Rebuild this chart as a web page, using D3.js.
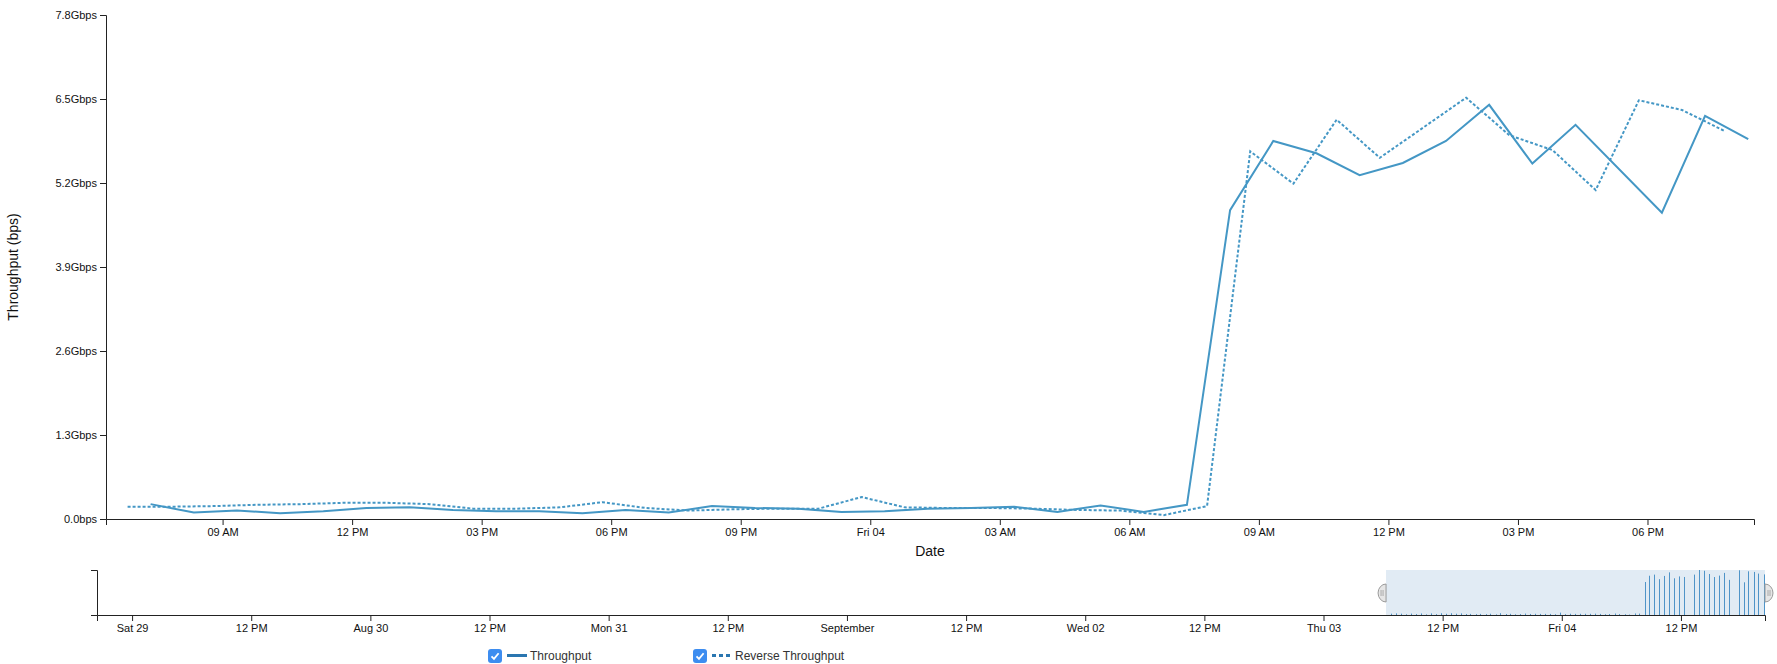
<!DOCTYPE html>
<html>
<head>
<meta charset="utf-8">
<script src="https://cdn.jsdelivr.net/npm/d3@7"></script>
<style>
  body { margin: 0; background: #fff; font-family: "Liberation Sans", Arial, Helvetica, sans-serif; }
  .axis text { font-size: 11px; fill: #111; font-family: "Liberation Sans", Arial, sans-serif; }
  .axis path, .axis line { stroke: #222; }
  .line { fill: none; stroke: #4497c5; stroke-width: 2; }
  .line.reverse { stroke-dasharray: 3,2; }
  .axis-label { font-size: 14px; fill: #111; }
  .legend text { font-size: 12px; fill: #333; }
  .bar { stroke: #4f94c8; stroke-width: 1; }
</style>
</head>
<body>
<svg id="chart" width="1777" height="664"></svg>
<script>
// Data (values in Gbps)
const throughputTimes = [
  "2015-09-03T07:20","2015-09-03T08:20","2015-09-03T09:20","2015-09-03T10:20","2015-09-03T11:20",
  "2015-09-03T12:20","2015-09-03T13:20","2015-09-03T14:20","2015-09-03T15:20","2015-09-03T16:20",
  "2015-09-03T17:20","2015-09-03T18:20","2015-09-03T19:20","2015-09-03T20:20","2015-09-03T21:20",
  "2015-09-03T22:20","2015-09-03T23:20","2015-09-04T00:20","2015-09-04T01:20","2015-09-04T02:20",
  "2015-09-04T03:20","2015-09-04T04:20","2015-09-04T05:20","2015-09-04T06:20","2015-09-04T07:20",
  "2015-09-04T08:20","2015-09-04T09:20","2015-09-04T10:20","2015-09-04T11:20","2015-09-04T12:20",
  "2015-09-04T13:20","2015-09-04T14:20","2015-09-04T15:20","2015-09-04T16:20","2015-09-04T18:20",
  "2015-09-04T19:20","2015-09-04T20:20"
];
const throughputValues = [
  0.23, 0.10, 0.13, 0.09, 0.12, 0.17, 0.18, 0.14, 0.12, 0.12,
  0.09, 0.14, 0.10, 0.20, 0.17, 0.16, 0.11, 0.12, 0.16, 0.17,
  0.19, 0.11, 0.21, 0.11, 0.22, 4.78, 5.85, 5.66, 5.32, 5.51,
  5.85, 6.41, 5.50, 6.10, 4.74, 6.24, 5.88
];
const reverseTimes = [
  "2015-09-03T06:48","2015-09-03T07:48","2015-09-03T08:48","2015-09-03T09:48","2015-09-03T10:48",
  "2015-09-03T11:48","2015-09-03T12:48","2015-09-03T13:48","2015-09-03T14:48","2015-09-03T15:48",
  "2015-09-03T16:48","2015-09-03T17:48","2015-09-03T18:48","2015-09-03T19:48","2015-09-03T20:48",
  "2015-09-03T21:48","2015-09-03T22:48","2015-09-03T23:48","2015-09-04T00:48","2015-09-04T01:48",
  "2015-09-04T02:48","2015-09-04T03:48","2015-09-04T04:48","2015-09-04T05:48","2015-09-04T06:48",
  "2015-09-04T07:48","2015-09-04T08:48","2015-09-04T09:48","2015-09-04T10:48","2015-09-04T11:48",
  "2015-09-04T13:48","2015-09-04T14:48","2015-09-04T15:48","2015-09-04T16:48","2015-09-04T17:48",
  "2015-09-04T18:48","2015-09-04T19:48"
];
const reverseValues = [
  0.19, 0.19, 0.20, 0.22, 0.23, 0.25, 0.25, 0.23, 0.16, 0.16,
  0.18, 0.26, 0.17, 0.13, 0.15, 0.16, 0.16, 0.34, 0.18, 0.17,
  0.17, 0.16, 0.14, 0.13, 0.06, 0.20, 5.69, 5.19, 6.18, 5.59,
  6.52, 5.94, 5.71, 5.09, 6.48, 6.33, 6.00
];
const seriesNames = ["Throughput", "Reverse Throughput"];
const yTickValues = [0, 1.3, 2.6, 3.9, 5.2, 6.5, 7.8];
const yTickLabels = ["0.0bps", "1.3Gbps", "2.6Gbps", "3.9Gbps", "5.2Gbps", "6.5Gbps", "7.8Gbps"];
const fullExtent = ["2015-08-28T20:28", "2015-09-04T20:28"];
const viewExtent = ["2015-09-03T06:18", "2015-09-04T20:28"];

const parseTime = d3.timeParse("%Y-%m-%dT%H:%M");
const throughput = throughputTimes.map((t, i) => ({t: parseTime(t), v: throughputValues[i]}));
const reverse = reverseTimes.map((t, i) => ({t: parseTime(t), v: reverseValues[i]}));

// Dimensions
const focus = {left: 106, top: 15, width: 1648, height: 504};
const context = {left: 97, top: 570, width: 1668, height: 45};

const svg = d3.select("#chart");

// Scales
const x = d3.scaleTime().domain(viewExtent.map(parseTime)).range([0, focus.width]);
const y = d3.scaleLinear().domain([0, 7.8]).range([focus.height, 0]);
const x2 = d3.scaleTime().domain(fullExtent.map(parseTime)).range([0, context.width]);
const y2 = d3.scaleLinear()
    .domain([0, d3.max(throughputValues.concat(reverseValues))])
    .range([context.height, 0]);

const line = d3.line().x(d => x(d.t)).y(d => y(d.v));

svg.append("defs").append("clipPath")
    .attr("id", "clip")
  .append("rect")
    .attr("width", focus.width)
    .attr("height", focus.height);

// Focus chart
const g = svg.append("g")
    .attr("transform", `translate(${focus.left},${focus.top})`);

const xAxis = g.append("g")
    .attr("class", "axis")
    .attr("transform", `translate(0,${focus.height})`)
    .call(d3.axisBottom(x));

g.append("g")
    .attr("class", "axis")
    .call(d3.axisLeft(y).tickValues(yTickValues).tickFormat((d, i) => yTickLabels[i]));

const lines = g.append("g").attr("clip-path", "url(#clip)");

const pathThroughput = lines.append("path")
    .datum(throughput)
    .attr("class", "line")
    .attr("d", line);

const pathReverse = lines.append("path")
    .datum(reverse)
    .attr("class", "line reverse")
    .attr("d", line);

svg.append("text")
    .attr("class", "axis-label")
    .attr("transform", "rotate(-90)")
    .attr("x", -(focus.top + focus.height / 2))
    .attr("y", 18)
    .attr("text-anchor", "middle")
    .text("Throughput (bps)");

svg.append("text")
    .attr("class", "axis-label")
    .attr("x", focus.left + focus.width / 2)
    .attr("y", 556)
    .attr("text-anchor", "middle")
    .text("Date");

// Context chart with brush
const c = svg.append("g")
    .attr("transform", `translate(${context.left},${context.top})`);

const brush = d3.brushX()
    .extent([[0, 0], [context.width, context.height]])
    .handleSize(8)
    .on("brush end", brushed);

const brushG = c.append("g").attr("class", "brush").call(brush);
brushG.select(".overlay").attr("fill", "none");
brushG.select(".selection")
    .attr("fill", "#e1ebf4")
    .attr("fill-opacity", 1)
    .attr("stroke", "none");

c.append("g")
  .selectAll("line")
  .data(throughput.concat(reverse))
  .join("line")
    .attr("class", "bar")
    .attr("x1", d => Math.round(x2(d.t)) + 0.5)
    .attr("x2", d => Math.round(x2(d.t)) + 0.5)
    .attr("y1", context.height)
    .attr("y2", d => y2(d.v));

c.append("g")
    .attr("class", "axis")
    .attr("transform", `translate(0,${context.height})`)
    .call(d3.axisBottom(x2));

c.append("g")
    .attr("class", "axis")
    .call(d3.axisLeft(y2).tickValues([]));

const handles = c.selectAll(".grip")
  .data(["w", "e"])
  .join("g")
    .attr("class", "grip")
    .style("pointer-events", "none");

handles.append("path")
    .attr("d", d => d === "w"
      ? "M0,-9 A8,9 0 0 0 0,9 Z"
      : "M0,-9 A8,9 0 0 1 0,9 Z")
    .attr("fill", "#e6e6e6")
    .attr("stroke", "#9a9a9a");

handles.append("path")
    .attr("d", d => d === "w" ? "M-3,-3V3M-5,-3V3" : "M3,-3V3M5,-3V3")
    .attr("stroke", "#999")
    .attr("stroke-width", 0.8);

function brushed(event) {
  const s = event.selection || x2.range();
  x.domain(s.map(x2.invert, x2));
  pathThroughput.attr("d", line);
  pathReverse.attr("d", line);
  xAxis.call(d3.axisBottom(x));
  handles.attr("transform", (d, i) => `translate(${s[i]},${context.height / 2 + 0.5})`);
}

brushG.call(brush.move, viewExtent.map(parseTime).map(x2));

// Legend
const legend = svg.append("g").attr("class", "legend");
const legendX = [488, 693];

const item = legend.selectAll("g")
  .data(seriesNames)
  .join("g")
    .attr("transform", (d, i) => `translate(${legendX[i]},649)`);

item.append("rect")
    .attr("width", 14)
    .attr("height", 14)
    .attr("rx", 3)
    .attr("fill", "#3d8df0");

item.append("path")
    .attr("d", "M3.5,7.3L6,9.9L10.6,4.3")
    .attr("fill", "none")
    .attr("stroke", "#fff")
    .attr("stroke-width", 1.8);

item.append("line")
    .attr("x1", 19).attr("x2", 39)
    .attr("y1", 6.5).attr("y2", 6.5)
    .attr("stroke", "#2a76b0")
    .attr("stroke-width", 3)
    .attr("stroke-dasharray", (d, i) => i ? "4,3" : null);

item.append("text")
    .attr("x", 42)
    .attr("y", 10.5)
    .text(d => d);
</script>
</body>
</html>
